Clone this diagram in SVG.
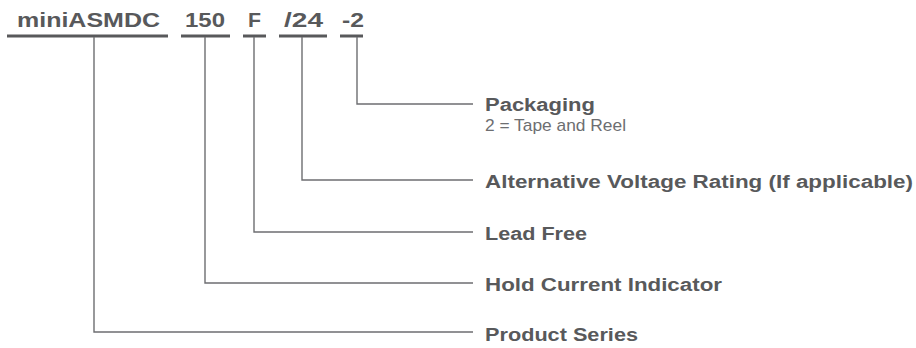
<svg xmlns="http://www.w3.org/2000/svg" width="916" height="348" viewBox="0 0 916 348">
<style>
.code{font-family:"Liberation Sans",Arial,sans-serif;font-weight:bold;font-size:20px;fill:#58595b}
.lbl{font-family:"Liberation Sans",Arial,sans-serif;font-weight:bold;font-size:18px;fill:#58595b}
.sub{font-family:"Liberation Sans",Arial,sans-serif;font-size:17px;fill:#6d6e71}
.ul{stroke:#58595b;stroke-width:3;fill:none}
.con{stroke:#6d6e71;stroke-width:1.4;fill:none}
</style>
<rect width="916" height="348" fill="#ffffff"/>
<g id="code">
<g id="seg-series"><text class="code" x="17" y="27" textLength="143" lengthAdjust="spacingAndGlyphs">miniASMDC</text><line class="ul" x1="7" y1="36" x2="168" y2="36"/></g>
<g id="seg-hold"><text class="code" x="185" y="27" textLength="40" lengthAdjust="spacingAndGlyphs">150</text><line class="ul" x1="181" y1="36" x2="230" y2="36"/></g>
<g id="seg-lead"><text class="code" x="248" y="27" textLength="13" lengthAdjust="spacingAndGlyphs">F</text><line class="ul" x1="243" y1="36" x2="266" y2="36"/></g>
<g id="seg-volt"><text class="code" x="284" y="27" textLength="39" lengthAdjust="spacingAndGlyphs">/24</text><line class="ul" x1="279" y1="36" x2="327" y2="36"/></g>
<g id="seg-pack"><text class="code" x="342" y="27" textLength="22" lengthAdjust="spacingAndGlyphs">-2</text><line class="ul" x1="340" y1="36" x2="363" y2="36"/></g>
</g>
<g id="connectors">
<polyline class="con" points="357,37 357,104 473,104"/>
<polyline class="con" points="302,37 302,180 473,180"/>
<polyline class="con" points="254,37 254,232 473,232"/>
<polyline class="con" points="205,37 205,283 473,283"/>
<polyline class="con" points="94,37 94,332 473,332"/>
</g>
<g id="label-pack"><text class="lbl" x="485" y="110.5" textLength="110" lengthAdjust="spacingAndGlyphs">Packaging</text><text class="sub" x="485" y="130.5" textLength="141" lengthAdjust="spacingAndGlyphs">2 = Tape and Reel</text></g>
<g id="label-volt"><text class="lbl" x="485" y="188" textLength="428" lengthAdjust="spacingAndGlyphs">Alternative Voltage Rating (If applicable)</text></g>
<g id="label-lead"><text class="lbl" x="485" y="240" textLength="102" lengthAdjust="spacingAndGlyphs">Lead Free</text></g>
<g id="label-hold"><text class="lbl" x="485" y="291" textLength="237" lengthAdjust="spacingAndGlyphs">Hold Current Indicator</text></g>
<g id="label-series"><text class="lbl" x="485" y="341" textLength="153" lengthAdjust="spacingAndGlyphs">Product Series</text></g>
</svg>
